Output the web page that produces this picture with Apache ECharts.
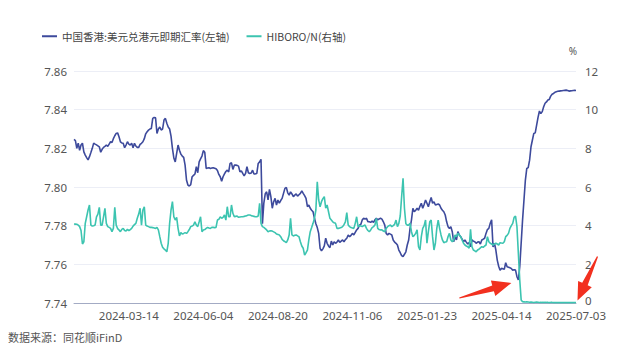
<!DOCTYPE html>
<html>
<head>
<meta charset="utf-8">
<script src="https://cdn.jsdelivr.net/npm/echarts@6/dist/echarts.min.js"></script>
<style>
  html, body { margin: 0; padding: 0; background: #ffffff; }
  #chart { width: 640px; height: 350px; }
</style>
</head>
<body>
<div id="chart"></div>
<script>
// Hong Kong trading calendar covered by the chart
const firstDay = '2024-01-17';
const lastDay = '2025-07-03';
const hkHolidays = [
  '2024-02-12', '2024-02-13', '2024-03-29', '2024-04-01', '2024-04-04', '2024-05-01',
  '2024-05-15', '2024-06-10', '2024-07-01', '2024-09-18', '2024-10-01', '2024-10-11',
  '2024-12-25', '2024-12-26', '2025-01-01', '2025-01-29', '2025-01-30', '2025-01-31',
  '2025-04-04', '2025-04-18', '2025-04-21', '2025-05-01', '2025-05-05', '2025-07-01'
];

// Dates that carry an x-axis label
const tickDates = ['2024-03-14', '2024-06-04', '2024-08-20', '2024-11-06', '2025-01-23', '2025-04-14', '2025-07-03'];

// Left-axis ticks (HKD per USD) and right-axis ticks (%)
const leftTicks = { min: 7.74, max: 7.86, step: 0.02 };
const rightTicks = { min: 0, max: 12, step: 2 };

const seriesNames = ['中国香港:美元兑港元即期汇率(左轴)', 'HIBORO/N(右轴)'];

// USD/HKD spot, one value per trading day
const usdHkdSpot = [
  7.8246, 7.8240, 7.8200, 7.8227, 7.8190, 7.8217, 7.8227, 7.8182, 7.8165, 7.8152,
  7.8140, 7.8157, 7.8178, 7.8200, 7.8227, 7.8222, 7.8218, 7.8213, 7.8208, 7.8180,
  7.8195, 7.8205, 7.8210, 7.8217, 7.8210, 7.8222, 7.8234, 7.8230, 7.8250, 7.8265,
  7.8277, 7.8280, 7.8260, 7.8234, 7.8228, 7.8226, 7.8203, 7.8217, 7.8234, 7.8222,
  7.8217, 7.8226, 7.8203, 7.8226, 7.8212, 7.8205, 7.8205, 7.8220, 7.8226, 7.8234,
  7.8250, 7.8275, 7.8286, 7.8294, 7.8300, 7.8303, 7.8355, 7.8360, 7.8358, 7.8277,
  7.8300, 7.8310, 7.8295, 7.8300, 7.8346, 7.8355, 7.8330, 7.8310, 7.8300, 7.8263,
  7.8200, 7.8150, 7.8130, 7.8174, 7.8217, 7.8190, 7.8170, 7.8160, 7.8153, 7.8113,
  7.8036, 7.8010, 7.8005, 7.8012, 7.8053, 7.8060, 7.8067, 7.8105, 7.8074, 7.8130,
  7.8145, 7.8160, 7.8188, 7.8180, 7.8096, 7.8098, 7.8100, 7.8096, 7.8098, 7.8100,
  7.8097, 7.8094, 7.8085, 7.8065, 7.8053, 7.8030, 7.8053, 7.8068, 7.8080, 7.8087,
  7.8078, 7.8122, 7.8125, 7.8091, 7.8113, 7.8113, 7.8112, 7.8108, 7.8078, 7.8084,
  7.8070, 7.8057, 7.8070, 7.8105, 7.8074, 7.8070, 7.8072, 7.8087, 7.8067, 7.8068,
  7.8070, 7.8122, 7.8130, 7.8143, 7.7810, 7.7917, 7.7965, 7.7975, 7.7933, 7.7988,
  7.7950, 7.7890, 7.7924, 7.7941, 7.7907, 7.7933, 7.7916, 7.7930, 7.7941, 7.7967,
  7.7993, 7.7998, 7.7970, 7.7958, 7.7975, 7.7964, 7.7950, 7.7958, 7.7964, 7.7953,
  7.7960, 7.7967, 7.7980, 7.7967, 7.7955, 7.7941, 7.7898, 7.7907, 7.7890, 7.7880,
  7.7872, 7.7838, 7.7810, 7.7790, 7.7760, 7.7683, 7.7670, 7.7680, 7.7695, 7.7735,
  7.7709, 7.7695, 7.7686, 7.7720, 7.7700, 7.7717, 7.7709, 7.7715, 7.7726, 7.7714,
  7.7720, 7.7726, 7.7717, 7.7728, 7.7735, 7.7752, 7.7743, 7.7750, 7.7760, 7.7752,
  7.7765, 7.7778, 7.7786, 7.7803, 7.7807, 7.7830, 7.7838, 7.7834, 7.7838, 7.7821,
  7.7820, 7.7817, 7.7824, 7.7817, 7.7830, 7.7838, 7.7830, 7.7835, 7.7838, 7.7834,
  7.7820, 7.7803, 7.7760, 7.7752, 7.7760, 7.7756, 7.7752, 7.7726, 7.7715, 7.7709,
  7.7700, 7.7674, 7.7660, 7.7645, 7.7640, 7.7652, 7.7665, 7.7700, 7.7726, 7.7786,
  7.7830, 7.7890, 7.7872, 7.7880, 7.7890, 7.7880, 7.7900, 7.7916, 7.7890, 7.7910,
  7.7933, 7.7916, 7.7898, 7.7924, 7.7946, 7.7916, 7.7924, 7.7907, 7.7910, 7.7912,
  7.7907, 7.7890, 7.7880, 7.7872, 7.7855, 7.7820, 7.7795, 7.7786, 7.7795, 7.7769,
  7.7717, 7.7743, 7.7726, 7.7769, 7.7752, 7.7743, 7.7730, 7.7717, 7.7726, 7.7715,
  7.7705, 7.7712, 7.7691, 7.7726, 7.7720, 7.7717, 7.7709, 7.7715, 7.7717, 7.7705,
  7.7726, 7.7730, 7.7735, 7.7760, 7.7780, 7.7786, 7.7812, 7.7830, 7.7690, 7.7709,
  7.7674, 7.7622, 7.7590, 7.7570, 7.7579, 7.7577, 7.7574, 7.7608, 7.7588, 7.7585,
  7.7582, 7.7579, 7.7570, 7.7572, 7.7570, 7.7536, 7.7519, 7.7588, 7.7709, 7.7830,
  7.7933, 7.8036, 7.8096, 7.8100, 7.8139, 7.8208, 7.8243, 7.8277, 7.8280, 7.8320,
  7.8360, 7.8393, 7.8380, 7.8390, 7.8415, 7.8433, 7.8440, 7.8450, 7.8453, 7.8470,
  7.8480, 7.8484, 7.8490, 7.8493, 7.8495, 7.8496, 7.8497, 7.8498, 7.8499, 7.8500,
  7.8501, 7.8499, 7.8496, 7.8497, 7.8498, 7.8499, 7.8500, 7.8499
];

// HIBOR overnight fixing (%), one value per trading day
const hiborOvernight = [
  4.09, 4.08, 4.07, 4.03, 3.95, 3.75, 3.05, 3.17, 4.12, 4.46,
  4.81, 5.07, 4.03, 3.98, 4.00, 4.03, 4.46, 4.60, 4.95, 4.03,
  4.03, 4.46, 4.90, 4.12, 3.95, 3.91, 3.86, 3.69, 3.86, 4.95,
  4.03, 3.85, 3.78, 3.69, 3.81, 3.86, 3.75, 3.72, 3.81, 3.74,
  3.80, 3.86, 3.98, 4.05, 4.12, 4.38, 4.60, 4.90, 4.03, 4.81,
  4.98, 4.03, 3.98, 3.95, 3.91, 3.91, 3.90, 3.88, 3.86, 3.91,
  3.78, 3.43, 3.09, 2.88, 2.80, 2.74, 2.65, 3.09, 4.12, 4.81,
  5.24, 4.46, 4.29, 4.43, 3.86, 3.47, 3.64, 3.57, 3.60, 3.64,
  3.60, 3.69, 3.80, 3.95, 3.98, 4.03, 4.20, 4.03, 3.95, 4.20,
  4.46, 3.69, 3.78, 3.80, 3.86, 3.91, 3.88, 3.86, 3.91, 3.91,
  3.90, 3.91, 4.29, 4.33, 4.46, 4.38, 4.43, 4.55, 4.29, 4.98,
  4.46, 4.46, 5.07, 4.64, 4.46, 4.48, 4.50, 4.43, 4.45, 4.46,
  4.46, 4.48, 4.50, 4.52, 4.55, 4.55, 4.52, 4.50, 4.48, 4.46,
  4.46, 4.50, 5.16, 4.12, 3.95, 3.91, 3.85, 3.78, 3.69, 3.72,
  3.74, 3.72, 3.68, 3.64, 3.57, 3.55, 3.52, 3.43, 3.29, 3.22,
  3.17, 3.12, 3.26, 3.52, 4.38, 3.52, 3.47, 3.50, 3.52, 3.47,
  3.43, 3.17, 2.95, 2.83, 2.48, 2.60, 2.74, 3.26, 3.69, 3.90,
  4.12, 4.38, 4.81, 6.27, 5.33, 4.98, 5.24, 5.40, 5.50, 4.90,
  5.07, 4.72, 4.38, 4.29, 4.20, 4.15, 4.12, 3.86, 3.86, 3.88,
  3.90, 3.95, 4.05, 4.20, 4.67, 4.03, 3.95, 3.90, 3.88, 3.86,
  4.12, 4.46, 3.95, 4.00, 3.98, 3.95, 4.00, 4.03, 3.86, 3.75,
  3.69, 3.78, 3.90, 3.95, 4.03, 4.38, 3.86, 3.80, 3.78, 3.78,
  3.72, 3.69, 3.86, 3.95, 4.00, 4.03, 3.95, 4.00, 4.07, 4.29,
  3.95, 4.12, 4.50, 5.50, 6.45, 4.90, 4.10, 4.03, 4.03, 4.12,
  3.69, 3.43, 3.50, 3.60, 3.78, 2.91, 2.74, 3.43, 3.86, 4.00,
  4.29, 3.09, 3.69, 4.20, 4.29, 3.43, 2.74, 3.09, 3.86, 4.29,
  3.86, 3.52, 3.26, 3.12, 3.15, 3.17, 3.43, 3.60, 3.26, 3.17,
  3.26, 3.52, 3.43, 3.60, 3.52, 3.43, 3.26, 3.09, 3.00, 2.95,
  2.91, 2.83, 3.81, 2.91, 2.74, 2.70, 2.65, 2.74, 2.78, 2.85,
  2.91, 2.88, 2.95, 3.00, 3.43, 3.17, 3.09, 3.05, 3.00, 3.05,
  3.09, 3.05, 3.00, 3.12, 3.10, 3.09, 3.17, 3.43, 3.50, 3.60,
  3.86, 4.00, 4.12, 4.43, 4.50, 3.95, 2.57, 1.19, 0.16, 0.07,
  0.06, 0.05, 0.06, 0.05, 0.04, 0.05, 0.04, 0.03, 0.04, 0.05,
  0.04, 0.03, 0.04, 0.03, 0.03, 0.04, 0.03, 0.03, 0.02, 0.03,
  0.03, 0.02, 0.03, 0.02, 0.02, 0.03, 0.02, 0.03, 0.02, 0.02,
  0.02, 0.03, 0.02, 0.02, 0.03, 0.02, 0.02, 0.03
];

const sourceNote = '数据来源：同花顺iFinD';

// Weekdays between two dates, minus Hong Kong public holidays
function tradingDays(start, end, holidays) {
  const out = [];
  const d = new Date(start + 'T00:00:00Z');
  const stop = new Date(end + 'T00:00:00Z');
  while (d <= stop) {
    const wd = d.getUTCDay();
    const s = d.toISOString().slice(0, 10);
    if (wd !== 0 && wd !== 6 && holidays.indexOf(s) < 0) out.push(s);
    d.setUTCDate(d.getUTCDate() + 1);
  }
  return out;
}
const dates = tradingDays(firstDay, lastDay, hkHolidays);

const FONT = '"Noto Sans CJK SC", "Noto Sans", sans-serif';
const NUM_FONT = '"Noto Sans", "Noto Sans CJK SC", sans-serif';
const LABEL = '#555';
const BLUE = '#3d4a9c';
const TEAL = '#3cc4b0';

const chart = echarts.init(document.getElementById('chart'), null, { renderer: 'svg' });

chart.setOption({
  animation: false,
  backgroundColor: '#ffffff',
  textStyle: { fontFamily: FONT },
  legend: {
    top: 26,
    left: 37,
    icon: 'rect',
    itemWidth: 15,
    itemHeight: 2,
    itemGap: 17,
    textStyle: { color: '#444', fontSize: 10.5, fontFamily: FONT },
    data: seriesNames
  },
  grid: { left: 74, right: 64, top: 71, bottom: 47 },
  xAxis: {
    type: 'category',
    data: dates,
    boundaryGap: false,
    axisLine: { lineStyle: { color: '#a3abc4', width: 1 } },
    axisTick: { show: false },
    axisLabel: {
      interval: (i, v) => tickDates.indexOf(v) >= 0,
      color: LABEL,
      fontSize: 11.5,
      lineHeight: 11.5,
      margin: 7,
      fontFamily: NUM_FONT
    },
    splitLine: { show: false }
  },
  yAxis: [
    {
      type: 'value',
      min: leftTicks.min,
      max: leftTicks.max,
      interval: leftTicks.step,
      axisLine: { show: false },
      axisTick: { show: false },
      axisLabel: {
        color: LABEL, fontSize: 11.5, margin: 7, fontFamily: NUM_FONT,
        formatter: v => v.toFixed(2)
      },
      splitLine: { lineStyle: { color: '#eceef6', width: 1 } }
    },
    {
      type: 'value',
      position: 'right',
      min: rightTicks.min,
      max: rightTicks.max,
      interval: rightTicks.step,
      name: '%',
      nameLocation: 'end',
      nameGap: 15,
      nameTextStyle: { color: LABEL, fontSize: 10, align: 'center', fontFamily: NUM_FONT, padding: [0, 6, 0, 0] },
      axisLine: { show: false },
      axisTick: { show: false },
      axisLabel: {
        color: LABEL, fontSize: 11.5, lineHeight: 11, margin: 9, fontFamily: NUM_FONT,
        // the baseline label sits a touch higher so it clears the last date label
        formatter: v => (v === rightTicks.min ? '{base|' + v + '}' : String(v)),
        rich: { base: { fontSize: 11.5, fontFamily: NUM_FONT, color: LABEL, padding: [0, 0, 5, 0] } }
      },
      splitLine: { show: false }
    }
  ],
  series: [
    {
      name: seriesNames[0],
      type: 'line',
      yAxisIndex: 0,
      data: usdHkdSpot,
      showSymbol: false,
      lineStyle: { color: BLUE, width: 1.6 },
      itemStyle: { color: BLUE }
    },
    {
      name: seriesNames[1],
      type: 'line',
      yAxisIndex: 1,
      data: hiborOvernight,
      showSymbol: false,
      lineStyle: { color: TEAL, width: 1.6 },
      itemStyle: { color: TEAL }
    }
  ]
});

// Red call-out arrows, anchored to the spot low and to the latest HIBOR fixing
function arrowShape(tail, tip, headLen, headHalf, tailHalf, neckHalf) {
  const dx = tip[0] - tail[0], dy = tip[1] - tail[1];
  const len = Math.hypot(dx, dy);
  const ux = dx / len, uy = dy / len;
  const nx = -uy, ny = ux;
  const bx = tip[0] - ux * headLen, by = tip[1] - uy * headLen;
  return [
    [tail[0] + nx * tailHalf, tail[1] + ny * tailHalf],
    [bx + nx * neckHalf, by + ny * neckHalf],
    [bx + nx * headHalf, by + ny * headHalf],
    tip,
    [bx - nx * headHalf, by - ny * headHalf],
    [bx - nx * neckHalf, by - ny * neckHalf],
    [tail[0] - nx * tailHalf, tail[1] - ny * tailHalf]
  ];
}

let lowIdx = 0;
usdHkdSpot.forEach((v, i) => { if (v < usdHkdSpot[lowIdx]) lowIdx = i; });
const lowPt = chart.convertToPixel({ xAxisIndex: 0, yAxisIndex: 0 }, [lowIdx, usdHkdSpot[lowIdx]]);
const lastIdx = hiborOvernight.length - 1;
const lastPt = chart.convertToPixel({ xAxisIndex: 0, yAxisIndex: 1 }, [lastIdx, hiborOvernight[lastIdx]]);

const tip1 = [lowPt[0] - 7, lowPt[1] + 3];
const tail1 = [tip1[0] - 52, tip1[1] + 15];
const tip2 = [lastPt[0] + 1.5, lastPt[1] - 2];
const tail2 = [tip2[0] + 20, tip2[1] - 44];

chart.setOption({
  graphic: [
    {
      type: 'polygon',
      shape: { points: arrowShape(tail1, tip1, 19, 8, 0.6, 3) },
      style: { fill: '#f2301f' },
      z: 100
    },
    {
      type: 'polygon',
      shape: { points: arrowShape(tail2, tip2, 18, 7.5, 0.6, 3) },
      style: { fill: '#f2301f' },
      z: 100
    },
    {
      type: 'text',
      left: 8,
      top: 331,
      style: { text: sourceNote, fill: '#555', font: '11px ' + FONT },
      z: 100
    }
  ]
});
</script>
</body>
</html>
